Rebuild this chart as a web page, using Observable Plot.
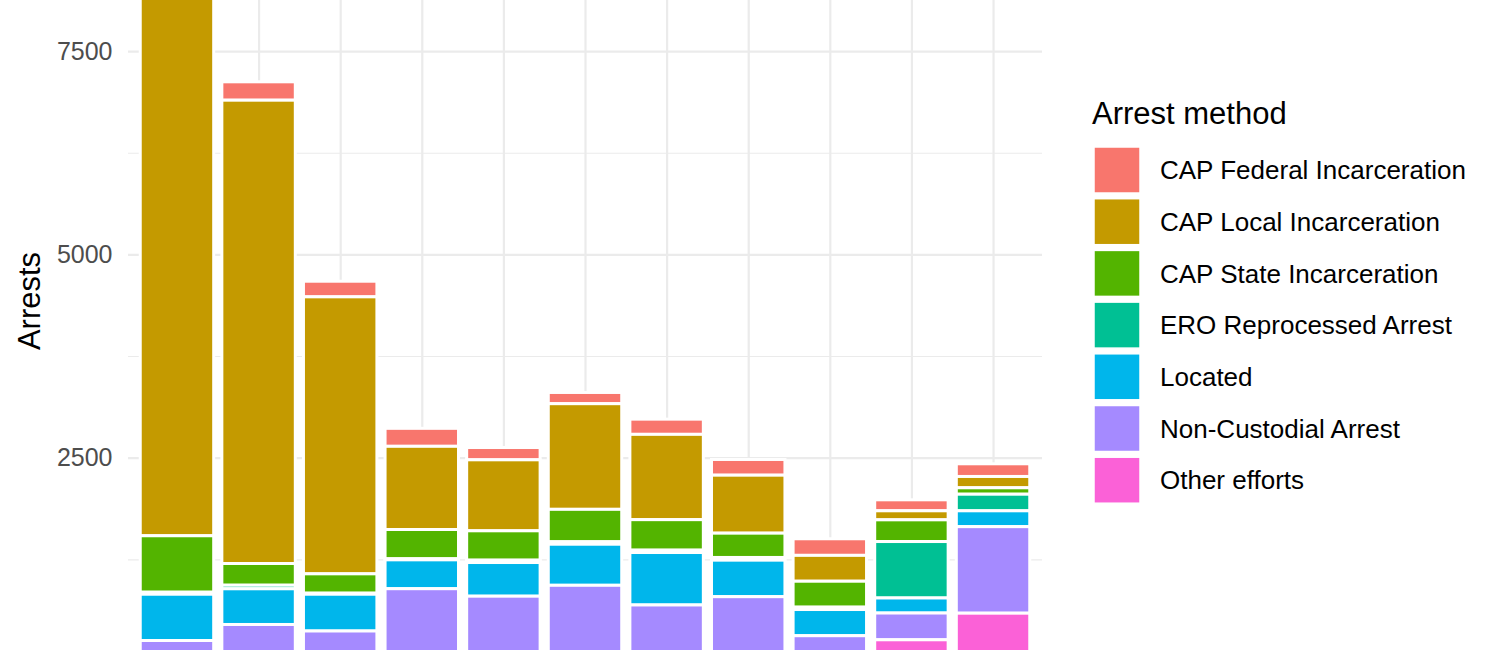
<!DOCTYPE html>
<html><head><meta charset="utf-8">
<script src="https://cdn.jsdelivr.net/npm/d3@7"></script>
<script src="https://cdn.jsdelivr.net/npm/@observablehq/plot@0.6"></script>
<style>
html,body{margin:0;padding:0;background:#fff;overflow:hidden;}
#wrap{position:relative;width:1500px;height:650px;overflow:hidden;}
#wrap svg{position:absolute;left:0;top:0;}
</style></head><body><div id="wrap"></div>
<script>
// categories (x-axis labels are outside the visible crop)
const periods = ["P01","P02","P03","P04","P05","P06","P07","P08","P09","P10","P11"];
// legend / stacking order (top of legend = top of stack)
const methods = ["CAP Federal Incarceration","CAP Local Incarceration","CAP State Incarceration","ERO Reprocessed Arrest","Located","Non-Custodial Arrest","Other efforts"];
const colors = ["#F8766D","#C49A00","#53B400","#00C094","#00B6EB","#A58AFF","#FB61D7"];

// series values (arrests)
const capFederal   = [230, 226, 192, 221, 151, 138, 187, 193, 204, 135, 156];
const capLocal     = [8000, 5697, 3406, 1023, 873, 1299, 1049, 713, 318, 111, 139];
const capState     = [694, 267, 238, 360, 361, 399, 375, 299, 319, 267, 79];
const eroReprocess = [25, 44, 13, 13, 29, 30, 29, 33, 29, 694, 204];
const located      = [569, 439, 452, 355, 414, 505, 645, 449, 322, 185, 195];
const nonCustodial = [252, 449, 369, 889, 797, 931, 689, 791, 311, 329, 1064];
const otherEfforts = [0, 0, 0, 0, 0, 0, 0, 0, 0, 261, 588];

// y-axis ticks
const yTicks = [2500, 5000, 7500];
const yMinor = [1250, 3750, 6250];
const yTitle = "Arrests";
const legendTitle = "Arrest method";

const seriesList = [capFederal, capLocal, capState, eroReprocess, located, nonCustodial, otherEfforts];
const rows = [];
methods.forEach((m, k) => periods.forEach((p, i) => rows.push({period: p, method: m, arrests: seriesList[k][i]})));
const bottomUp = methods.slice().reverse();

const font = "'Liberation Sans', Arial, sans-serif";
const wrap = document.getElementById("wrap");

const plot = Plot.plot({
  width: 1500, height: 650,
  marginLeft: 128, marginRight: 458, marginTop: 0, marginBottom: 0,
  style: {fontFamily: font, fontSize: "25px", background: "white", overflow: "hidden"},
  x: {domain: periods, paddingInner: 0.1, paddingOuter: 0.15, round: false, axis: null},
  y: {domain: [0, 8128], range: [661, 0], axis: null},
  color: {domain: methods, range: colors},
  marks: [
    Plot.ruleY(yMinor, {stroke: "#EBEBEB", strokeWidth: 1.1}),
    Plot.ruleY(yTicks, {stroke: "#EBEBEB", strokeWidth: 2.2}),
    Plot.gridX({stroke: "#EBEBEB", strokeWidth: 2.2, strokeOpacity: 1}),
    Plot.barY(rows, Plot.stackY({order: bottomUp}, {
      x: "period", y: "arrests", fill: "method", stroke: "white", strokeWidth: 3, clip: true
    })),
    Plot.axisY(yTicks, {tickSize: 0, tickPadding: 16, color: "#4D4D4D", fontSize: 25, label: null, tickFormat: d3.format("d")})
  ]
});
wrap.appendChild(plot);

// overlay: y title + legend
const svg = d3.select(wrap).append("svg")
  .attr("width", 1500).attr("height", 650)
  .style("pointer-events", "none")
  .attr("font-family", font);

svg.append("text")
  .attr("transform", "translate(40,301) rotate(-90)")
  .attr("text-anchor", "middle")
  .attr("font-size", 31)
  .attr("fill", "#000")
  .text(yTitle);

svg.append("text")
  .attr("x", 1092).attr("y", 124)
  .attr("font-size", 31)
  .attr("fill", "#000")
  .text(legendTitle);

const step = 51.7;
methods.forEach((m, i) => {
  const y0 = 147 + i * step;
  svg.append("rect")
    .attr("x", 1094).attr("y", y0).attr("width", 46).attr("height", 46)
    .attr("fill", colors[i]).attr("stroke", "white").attr("stroke-width", 1.5);
  svg.append("text")
    .attr("x", 1160).attr("y", y0 + 23).attr("dy", "0.35em")
    .attr("font-size", 26)
    .attr("fill", "#000")
    .text(m);
});
</script></body></html>
